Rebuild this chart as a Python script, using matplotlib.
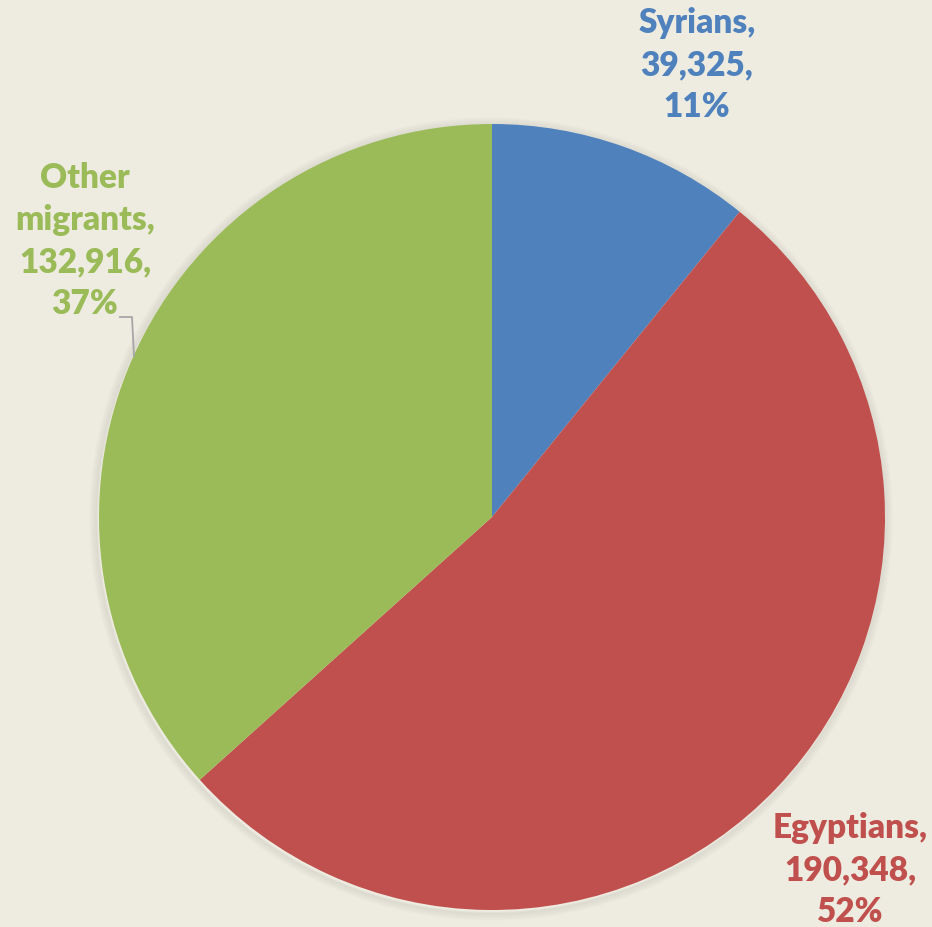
import matplotlib.pyplot as plt
from matplotlib.patches import Circle

# migrant groups and counts
groups = ['Syrians', 'Egyptians', 'Other migrants']
counts = [39325, 190348, 132916]
pcts = ['11%', '52%', '37%']
colors = ['#4F81BD', '#C0504D', '#9BBB59']

bg = '#EEECE1'

fig = plt.figure(figsize=(9.32, 9.28), dpi=100, facecolor=bg)
ax = fig.add_axes([0, 0, 1, 1])
ax.set_facecolor(bg)

cx, cy, r = 492, 410, 393

# soft shadow behind the pie
for i in range(8):
    ax.add_patch(Circle((cx - 1, cy - 2), r + 1 + i, facecolor='none',
                        edgecolor='#5a5a50', linewidth=1.5, alpha=0.06 * (8 - i) / 8, zorder=1))

ax.pie(counts, colors=colors, startangle=90, counterclock=False,
       center=(cx, cy), radius=r, wedgeprops=dict(linewidth=0, zorder=2),
       frame=True)
ax.set_xlim(0, 932)
ax.set_ylim(0, 928)
ax.set_aspect('equal')
ax.axis('off')

font = dict(family=['Lato', 'DejaVu Sans'], fontweight='heavy', fontsize=24,
            ha='center', va='center', linespacing=1.38)

def lab(i, name):
    return name + ',\n' + f'{counts[i]:,}' + ',\n' + pcts[i]

ax.text(697, 928 - 65, lab(0, 'Syrians'), color=colors[0], **font)
ax.text(850, 928 - 870, lab(1, 'Egyptians'), color=colors[1], **font)
ax.text(85, 928 - 241, lab(2, 'Other\nmigrants'), color=colors[2], **font)

# leader line for other migrants
ax.plot([120, 132, 134], [928 - 318, 928 - 318, 928 - 357], color='#A6A6A6',
        linewidth=1.3, zorder=3)

fig.savefig('out.png', dpi=100, facecolor=bg)
